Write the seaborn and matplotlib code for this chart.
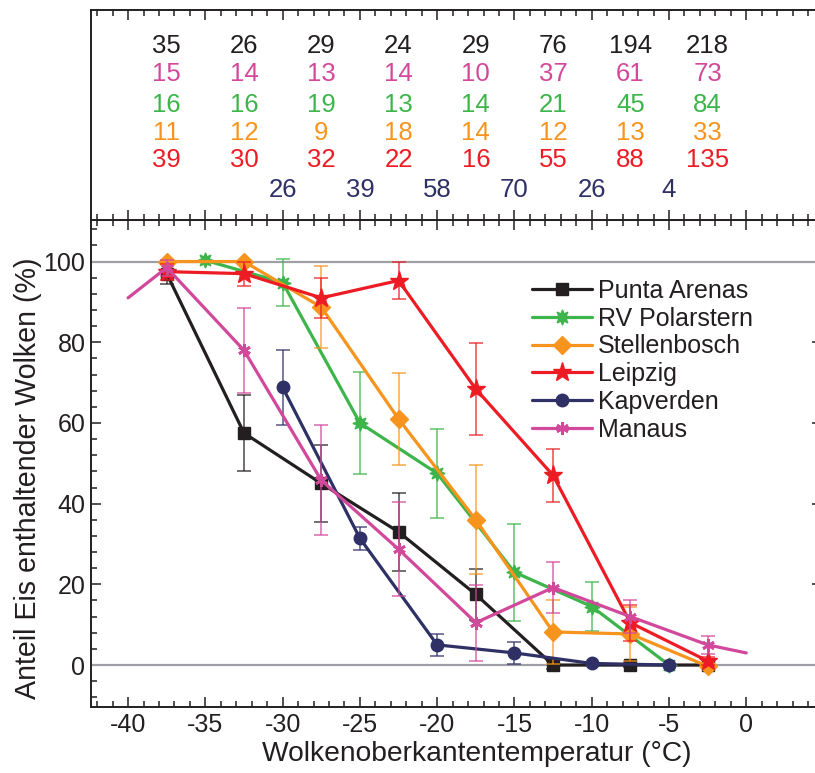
import numpy as np
import pandas as pd
import matplotlib
matplotlib.use("Agg")
import matplotlib.pyplot as plt
from matplotlib.lines import Line2D
from matplotlib.ticker import MultipleLocator
import seaborn as sns

# ---------------- data ----------------
bins = [-37.5, -32.5, -27.5, -22.5, -17.5, -12.5, -7.5, -2.5]

pa_x = bins
pa_y = [97.0, 57.5, 45.0, 33.0, 17.5, 0.0, 0.0, 0.0]
pa_e = [2.5, 9.5, 9.5, 9.7, 6.3, 1.0, 0.5, 0.0]

rv_x = [-35, -30, -25, -20, -15, -10, -5]
rv_y = [100.3, 94.8, 60.0, 47.5, 23.0, 14.5, 0.0]
rv_e = [0.0, 5.8, 12.7, 11.0, 12.0, 6.0, 0.0]

st_x = bins
st_y = [100.0, 100.0, 88.7, 61.0, 36.0, 8.2, 7.7, -0.3]
st_e = [0.0, 0.0, 10.2, 11.3, 13.5, 8.0, 6.7, 0.0]

le_x = bins
le_y = [97.5, 97.0, 91.0, 95.3, 68.4, 47.0, 10.5, 1.0]
le_e = [2.0, 3.0, 5.0, 4.5, 11.4, 6.6, 4.5, 1.0]

kv_x = [-30, -25, -20, -15, -10, -5]
kv_y = [68.8, 31.4, 5.0, 3.0, 0.4, 0.0]
kv_e = [9.2, 2.8, 2.8, 2.8, 0.0, 0.0]

ma_x = [-40, -37.5, -32.5, -27.5, -22.5, -17.5, -12.5, -7.5, -2.5, 0]
ma_y = [91.0, 98.5, 78.0, 45.8, 28.7, 10.5, 19.2, 12.0, 5.0, 3.0]
ma_e = [0.0, 2.0, 10.6, 13.6, 11.6, 9.4, 6.3, 4.0, 2.3, 0.0]

# counts shown in the upper panel
n_pa = [35, 26, 29, 24, 29, 76, 194, 218]
n_ma = [15, 14, 13, 14, 10, 37, 61, 73]
n_rv = [16, 16, 19, 13, 14, 21, 45, 84]
n_st = [11, 12, 9, 18, 14, 12, 13, 33]
n_le = [39, 30, 32, 22, 16, 55, 88, 135]
n_kv = [26, 39, 58, 70, 26, 4]
n_kv_x = [-30, -25, -20, -15, -10, -5]

names = ["Punta Arenas", "RV Polarstern", "Stellenbosch", "Leipzig", "Kapverden", "Manaus"]

# ---------------- style ----------------
sns.set_theme(style="ticks")
plt.rcParams["font.family"] = ["Liberation Sans", "DejaVu Sans"]
plt.rcParams["axes.linewidth"] = 1.4
plt.rcParams["axes.unicode_minus"] = False

C_BLACK = "#231f20"
C_GREEN = "#3db54a"
C_ORANGE = "#f7941d"
C_RED = "#ed1c24"
C_NAVY = "#2e3066"
C_PINK = "#d2489b"
C_GRAY = "#9fa0a6"

W, H = 815, 773
fig = plt.figure(figsize=(W / 100, H / 100), dpi=100)


def rect(l, t, r, b):
    return [l / W, 1 - b / H, (r - l) / W, (b - t) / H]


XL = (-42.4, 4.9)
ax = fig.add_axes(rect(91, 220, 822, 707))
axt = fig.add_axes(rect(91, 10, 822, 220))

for a in (ax, axt):
    a.set_xlim(*XL)
    a.xaxis.set_major_locator(MultipleLocator(5))
    a.xaxis.set_minor_locator(MultipleLocator(1))
    for s in a.spines.values():
        s.set_color(C_BLACK)
        s.set_linewidth(1.4)
    a.spines["right"].set_visible(False)

ax.set_ylim(-10.4, 110.3)
ax.yaxis.set_major_locator(MultipleLocator(20))
ax.yaxis.set_minor_locator(MultipleLocator(4))
ax.tick_params(which="both", direction="in", top=True, right=True, color=C_BLACK, width=1.1)
ax.tick_params(which="major", length=7.5, labelsize=18, pad=4, labelcolor=C_BLACK)
ax.tick_params(which="minor", length=4)

axt.set_ylim(220, 10)
axt.set_yticks([])
axt.tick_params(which="both", direction="in", top=True, bottom=True, labelbottom=False,
                color=C_BLACK, width=1.1)
axt.tick_params(which="major", length=7.5)
axt.tick_params(which="minor", length=4)

# reference lines
ax.axhline(0, color=C_GRAY, lw=1.6, zorder=1)
ax.axhline(100, color=C_GRAY, lw=1.6, zorder=1)

series = [
    (names[0], pa_x, pa_y, pa_e, C_BLACK, "s", 9, 1.0),
    (names[1], rv_x, rv_y, rv_e, C_GREEN, (8, 1, 0), 11, 1.0),
    (names[2], st_x, st_y, st_e, C_ORANGE, "D", 9, 1.0),
    (names[3], le_x, le_y, le_e, C_RED, "*", 14, 1.0),
    (names[4], kv_x, kv_y, kv_e, C_NAVY, "o", 9, 1.0),
    (names[5], ma_x, ma_y, ma_e, C_PINK, (6, 2, 0), 9, 2.0),
]

handles = []
for i, (name, x, y, e, col, mk, ms, mew) in enumerate(series):
    df = pd.DataFrame({"x": x, "y": y})
    z = 3 + i
    if name == "Manaus":
        sns.lineplot(data=df, x="x", y="y", ax=ax, color=col, lw=2.3, sort=False,
                     estimator=None, zorder=z, legend=False)
        sub = df.iloc[1:-1]
        ax.plot(sub["x"], sub["y"], ls="none", marker=mk, ms=ms, mec=col, mfc=col,
                mew=mew, zorder=z)
    else:
        sns.lineplot(data=df, x="x", y="y", ax=ax, color=col, lw=2.3, sort=False,
                     estimator=None, marker=mk, markersize=ms, markeredgecolor=col,
                     markerfacecolor=col, markeredgewidth=mew, zorder=z, legend=False)
    ee = np.array(e)
    m = ee > 0
    ax.errorbar(np.array(x)[m], np.array(y)[m], yerr=ee[m], fmt="none", ecolor=col,
                alpha=0.75, elinewidth=1.2, capsize=5, capthick=1.2, zorder=z - 0.5)
    handles.append(Line2D([], [], color=col, lw=2.3, marker=mk, ms=ms, mec=col, mfc=col,
                          mew=mew))

ax.set_xlabel("Wolkenoberkantentemperatur (°C)", fontsize=20.3, color=C_BLACK)
ax.xaxis.set_label_coords(0.528, -0.07)
ax.xaxis.label.set_va("top")
ax.set_ylabel("Anteil Eis enthaltender Wolken (%)", fontsize=20.6, color=C_BLACK)
ax.yaxis.set_label_coords(-0.067, 0.47)

leg = ax.legend(handles, names, loc="upper left", bbox_to_anchor=(0.603, 0.879),
                frameon=False, fontsize=18, handlelength=2.4, handletextpad=0.25,
                labelspacing=0.15, borderpad=0, borderaxespad=0)
for t in leg.get_texts():
    t.set_color(C_BLACK)

# counts in upper panel
rows = [
    (bins, n_pa, C_BLACK, 46),
    (bins, n_ma, C_PINK, 74),
    (bins, n_rv, C_GREEN, 105),
    (bins, n_st, C_ORANGE, 133),
    (bins, n_le, C_RED, 160),
    (n_kv_x, n_kv, C_NAVY, 190),
]
for xs, ns, col, yrow in rows:
    for xv, nv in zip(xs, ns):
        axt.text(xv, yrow, str(nv), color=col, ha="center", va="center", fontsize=18.5)

fig.savefig("out.png", dpi=100)
